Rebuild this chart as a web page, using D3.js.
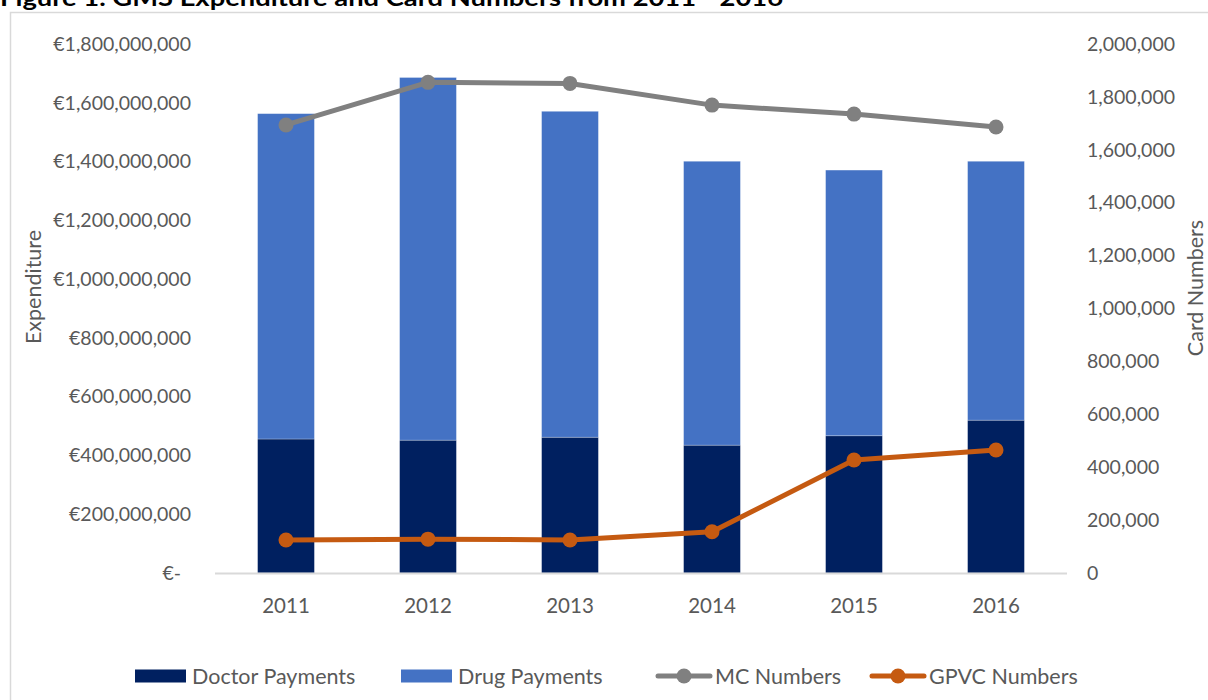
<!DOCTYPE html>
<html>
<head>
<meta charset="utf-8">
<script src="https://cdn.jsdelivr.net/npm/d3@7"></script>
<style>
  html, body { margin: 0; padding: 0; background: #fff; }
  svg { display: block; font-family: Lato, "Open Sans", sans-serif; }
</style>
</head>
<body>
<svg id="chart" width="1208" height="700"></svg>
<script>
// GMS expenditure (stacked bars, left axis) and card numbers (lines, right axis)
const years = ["2011", "2012", "2013", "2014", "2015", "2016"];
const doctorPayments = [456e6, 452e6, 462e6, 435e6, 467e6, 520e6];
const drugPayments = [1107e6, 1234e6, 1109e6, 966e6, 904e6, 881e6];
const mcNumbers = [1694000, 1855000, 1851000, 1769000, 1735000, 1686000];
const gpvcNumbers = [125000, 128000, 125000, 156000, 427000, 465000];
const expenditureTicks = [0, 2e8, 4e8, 6e8, 8e8, 1e9, 1.2e9, 1.4e9, 1.6e9, 1.8e9];
const cardTicks = [0, 2e5, 4e5, 6e5, 8e5, 1e6, 1.2e6, 1.4e6, 1.6e6, 1.8e6, 2e6];

const colors = {
  doctor: "#002060",
  drug: "#4472C4",
  mc: "#808080",
  gpvc: "#C55A11",
  text: "#595959",
  axis: "#D9D9D9"
};
const numSize = 19.5;
const labelSize = 21.5;

const svg = d3.select("#chart");
const plot = { left: 215, right: 1067, top: 44, bottom: 573 };

// Title (sits above the chart frame)
svg.append("text")
  .attr("x", 0).attr("y", 6)
  .attr("font-weight", "bold")
  .attr("font-size", 22)
  .attr("fill", "#000")
  .attr("textLength", 783)
  .attr("lengthAdjust", "spacingAndGlyphs")
  .text("Figure 1. GMS Expenditure and Card Numbers from 2011 - 2016");

// Chart frame
svg.append("rect")
  .attr("x", 10.5).attr("y", 12.5)
  .attr("width", 1210).attr("height", 700)
  .attr("fill", "none")
  .attr("stroke", colors.axis)
  .attr("stroke-width", 1.5);

const x = d3.scaleBand()
  .domain(years)
  .range([plot.left, plot.right])
  .paddingInner(0.6)
  .paddingOuter(0.3);

const yLeft = d3.scaleLinear().domain([0, 1.8e9]).range([plot.bottom, plot.top]);
const yRight = d3.scaleLinear().domain([0, 2e6]).range([plot.bottom, plot.top]);

// Stacked bars
const rows = years.map((yr, i) => ({ year: yr, doctor: doctorPayments[i], drug: drugPayments[i] }));
const stack = d3.stack().keys(["doctor", "drug"])(rows);

svg.append("g").selectAll("g")
  .data(stack)
  .join("g")
  .attr("fill", d => colors[d.key])
  .selectAll("rect")
  .data(d => d)
  .join("rect")
  .attr("x", d => x(d.data.year))
  .attr("width", x.bandwidth())
  .attr("y", d => yLeft(d[1]))
  .attr("height", d => yLeft(d[0]) - yLeft(d[1]))
  .attr("stroke", "#ffffff")
  .attr("stroke-opacity", 0.35)
  .attr("stroke-width", 0.75);

// Category axis line
svg.append("line")
  .attr("x1", plot.left).attr("x2", plot.right)
  .attr("y1", plot.bottom + 0.5).attr("y2", plot.bottom + 0.5)
  .attr("stroke", colors.axis)
  .attr("stroke-width", 2);

// Category labels
const xAxis = svg.append("g")
  .attr("transform", `translate(0,${plot.bottom + 12})`)
  .call(d3.axisBottom(x).tickSize(0).tickPadding(13));
xAxis.select(".domain").remove();
xAxis.selectAll("text")
  .attr("font-size", 20.5)
  .attr("font-family", "Lato, sans-serif")
  .attr("fill", colors.text);

// Left axis: expenditure
const euroFmt = d3.format(",");
const leftAxis = svg.append("g")
  .attr("transform", `translate(${plot.left - 24},0)`)
  .call(d3.axisLeft(yLeft)
    .tickValues(expenditureTicks)
    .tickSize(0)
    .tickPadding(0)
    .tickFormat(v => v === 0 ? "€-" : "€" + euroFmt(v)));
leftAxis.select(".domain").remove();
leftAxis.selectAll("text")
  .attr("font-size", numSize)
  .attr("font-family", "Lato, sans-serif")
  .attr("fill", colors.text);
leftAxis.selectAll(".tick").filter(d => d === 0).select("text").attr("x", -10);

// Right axis: card numbers
const rightAxis = svg.append("g")
  .attr("transform", `translate(${plot.right + 20},0)`)
  .call(d3.axisRight(yRight)
    .tickValues(cardTicks)
    .tickSize(0)
    .tickPadding(0)
    .tickFormat(d3.format(",")));
rightAxis.select(".domain").remove();
rightAxis.selectAll("text")
  .attr("font-size", numSize)
  .attr("font-family", "Lato, sans-serif")
  .attr("fill", colors.text);

// Axis titles
svg.append("text")
  .attr("transform", "translate(41,287) rotate(-90)")
  .attr("text-anchor", "middle")
  .attr("font-size", labelSize)
  .attr("fill", colors.text)
  .text("Expenditure");

svg.append("text")
  .attr("transform", "translate(1203,288) rotate(-90)")
  .attr("text-anchor", "middle")
  .attr("font-size", labelSize)
  .attr("fill", colors.text)
  .text("Card Numbers");

// Lines with markers
const cx = yr => x(yr) + x.bandwidth() / 2;
const lineSeries = [
  { key: "mc", values: mcNumbers },
  { key: "gpvc", values: gpvcNumbers }
];
const line = d3.line().x(d => cx(d.year)).y(d => yRight(d.value));

lineSeries.forEach(s => {
  const pts = years.map((yr, i) => ({ year: yr, value: s.values[i] }));
  const g = svg.append("g");
  g.append("path")
    .datum(pts)
    .attr("d", line)
    .attr("fill", "none")
    .attr("stroke", colors[s.key])
    .attr("stroke-width", 5)
    .attr("stroke-linejoin", "round");
  g.selectAll("circle")
    .data(pts)
    .join("circle")
    .attr("cx", d => cx(d.year))
    .attr("cy", d => yRight(d.value))
    .attr("r", 7.5)
    .attr("fill", colors[s.key]);
});

// Legend
const legendY = 676;
const legendItems = [
  { label: "Doctor Payments", key: "doctor", type: "rect", x: 135 },
  { label: "Drug Payments", key: "drug", type: "rect", x: 401 },
  { label: "MC Numbers", key: "mc", type: "line", x: 658 },
  { label: "GPVC Numbers", key: "gpvc", type: "line", x: 872 }
];
const legend = svg.append("g");
legendItems.forEach(item => {
  const g = legend.append("g").attr("transform", `translate(${item.x},${legendY})`);
  if (item.type === "rect") {
    g.append("rect")
      .attr("x", 0).attr("y", -6.5)
      .attr("width", 51).attr("height", 13)
      .attr("fill", colors[item.key]);
  } else {
    g.append("line")
      .attr("x1", 0).attr("x2", 52)
      .attr("y1", 0).attr("y2", 0)
      .attr("stroke", colors[item.key])
      .attr("stroke-width", 5)
      .attr("stroke-linecap", "round");
    g.append("circle")
      .attr("cx", 26).attr("cy", 0).attr("r", 7.5)
      .attr("fill", colors[item.key]);
  }
  g.append("text")
    .attr("x", 57).attr("y", 0)
    .attr("dy", "0.35em")
    .attr("font-size", labelSize)
    .attr("fill", colors.text)
    .text(item.label);
});
</script>
</body>
</html>
